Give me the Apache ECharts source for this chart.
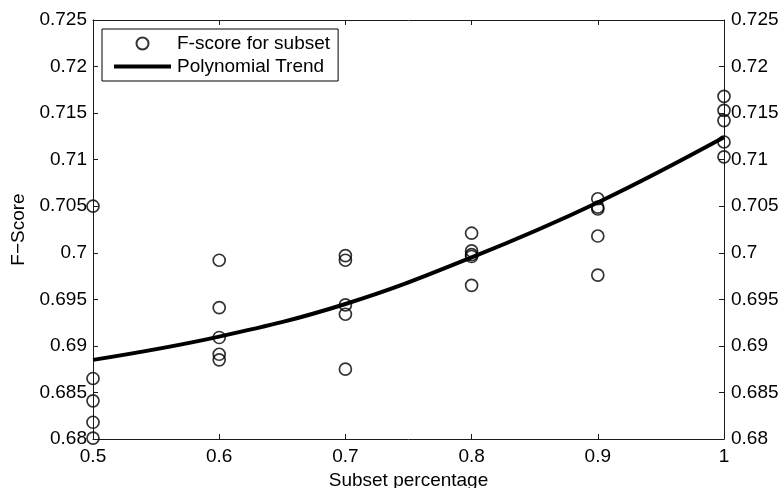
<!DOCTYPE html>
<html>
<head>
<meta charset="utf-8">
<script src="https://cdn.jsdelivr.net/npm/echarts@6/dist/echarts.min.js"></script>
<style>
html,body{margin:0;padding:0;background:#fff;}
#chart{width:782px;height:488px;}
</style>
</head>
<body>
<div id="chart"></div>
<script>
// Data
const subsetX = [0.5, 0.6, 0.7, 0.8, 0.9, 1.0];
const scoresAt05 = [0.7050, 0.6865, 0.6841, 0.6818, 0.6801];
const scoresAt06 = [0.6992, 0.6941, 0.6909, 0.6891, 0.6885];
const scoresAt07 = [0.6997, 0.6992, 0.6944, 0.6934, 0.6875];
const scoresAt08 = [0.7021, 0.7002, 0.6998, 0.6996, 0.6965];
const scoresAt09 = [0.7058, 0.7049, 0.7047, 0.7018, 0.6976];
const scoresAt10 = [0.7168, 0.7153, 0.7142, 0.7119, 0.7103];
const trendY = [0.6885, 0.6910, 0.6945, 0.6995, 0.7054, 0.7124];
const seriesNames = ['F-score for subset', 'Polynomial Trend'];
const xTitle = 'Subset percentage';
const yTitle = 'F\u2212Score';

const scoreGroups = [scoresAt05, scoresAt06, scoresAt07, scoresAt08, scoresAt09, scoresAt10];
const scatterData = [];
scoreGroups.forEach((g, i) => g.forEach(v => scatterData.push([subsetX[i], v])));
const trendData = subsetX.map((x, i) => [x, trendY[i]]);

const FONT = 'Liberation Sans, Arial, Helvetica, sans-serif';
const axisColor = '#1a1a1a';
const labelStyle = {color: '#000', fontFamily: FONT, fontSize: 19};

const chart = echarts.init(document.getElementById('chart'), null, {renderer: 'canvas'});
chart.setOption({
  animation: false,
  backgroundColor: '#fff',
  grid: {left: 93, right: 58, top: 20, bottom: 49, containLabel: false, outerBoundsMode: 'none'},
  legend: {
    left: 102, top: 29,
    orient: 'vertical',
    padding: [5, 8, 5, 12],
    itemGap: 4,
    itemWidth: 57,
    itemHeight: 12,
    borderColor: '#000',
    borderWidth: 1,
    borderRadius: 0,
    backgroundColor: '#fff',
    textStyle: {color: '#000', fontFamily: FONT, fontSize: 19, padding: [0, 0, 0, 1]},
    data: [
      {name: seriesNames[0]},
      {name: seriesNames[1], icon: 'path://M0,0L57,0L57,4L0,4Z'}
    ]
  },
  xAxis: [{
    type: 'value', min: 0.5, max: 1, interval: 0.1, position: 'bottom',
    name: xTitle, nameLocation: 'middle', nameGap: 28,
    nameTextStyle: labelStyle,
    axisLine: {show: true, lineStyle: {color: axisColor, width: 1}},
    axisTick: {show: true, inside: true, length: 5, lineStyle: {color: axisColor}},
    axisLabel: Object.assign({margin: 8}, labelStyle),
    splitLine: {show: false}
  }, {
    type: 'value', min: 0.5, max: 1, interval: 0.1, position: 'top',
    axisLine: {show: true, onZero: false, lineStyle: {color: axisColor, width: 1}},
    axisTick: {show: true, inside: true, length: 5, lineStyle: {color: axisColor}},
    axisLabel: {show: false},
    splitLine: {show: false}
  }],
  yAxis: [{
    type: 'value', min: 0.68, max: 0.725, interval: 0.005, position: 'left',
    name: yTitle, nameLocation: 'middle', nameGap: 64,
    nameTextStyle: labelStyle,
    axisLine: {show: true, onZero: false, lineStyle: {color: axisColor, width: 1}},
    axisTick: {show: true, inside: true, length: 5, lineStyle: {color: axisColor}},
    axisLabel: Object.assign({margin: 6}, labelStyle),
    splitLine: {show: false}
  }, {
    type: 'value', min: 0.68, max: 0.725, interval: 0.005, position: 'right',
    axisLine: {show: true, onZero: false, lineStyle: {color: axisColor, width: 1}},
    axisTick: {show: true, inside: true, length: 5, lineStyle: {color: axisColor}},
    axisLabel: Object.assign({margin: 7}, labelStyle),
    splitLine: {show: false}
  }],
  series: [{
    name: seriesNames[0],
    type: 'scatter',
    xAxisIndex: 0, yAxisIndex: 0,
    symbol: 'circle',
    symbolSize: 12,
    itemStyle: {color: 'rgba(255,255,255,0)', borderColor: '#000', borderWidth: 1.7},
    data: scatterData,
    z: 2
  }, {
    name: seriesNames[1],
    type: 'line',
    xAxisIndex: 0, yAxisIndex: 0,
    smooth: 0.4,
    showSymbol: false,
    symbol: 'none',
    lineStyle: {color: '#000', width: 4},
    itemStyle: {color: '#000'},
    data: trendData,
    z: 3
  }]
});
</script>
</body>
</html>
